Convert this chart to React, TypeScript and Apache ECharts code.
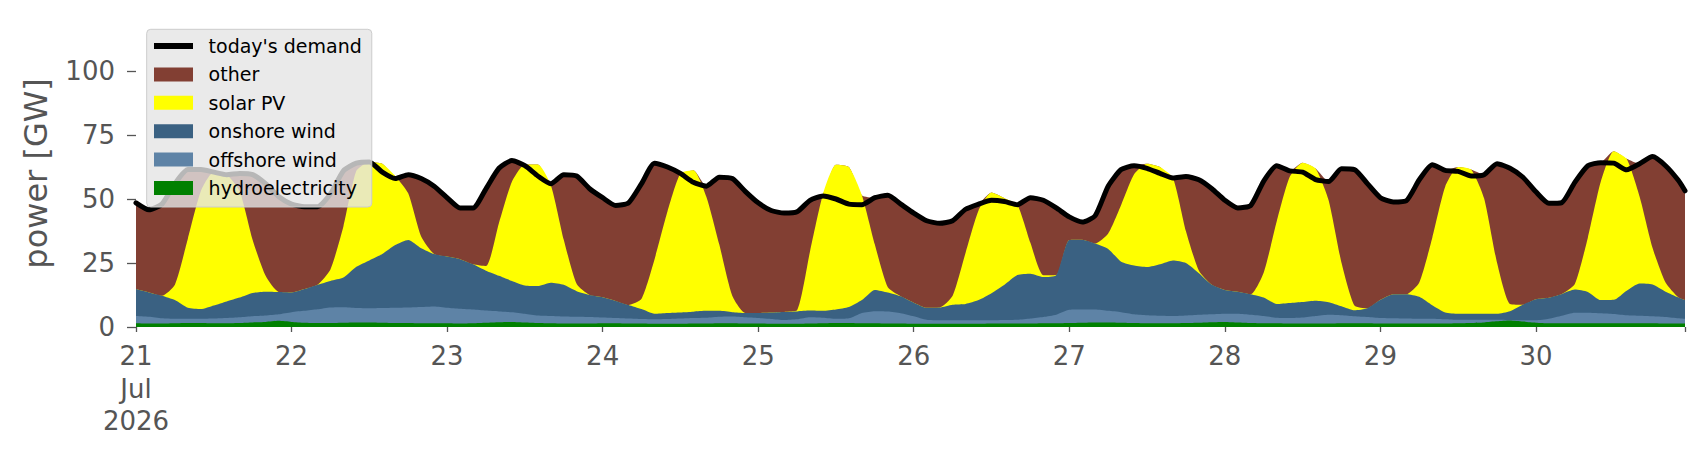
import React, { useEffect, useRef } from "react";
import * as echarts from "echarts";

// Day tick labels (x axis), month / year shown under the first day
const DAY_LABELS = ["21", "22", "23", "24", "25", "26", "27", "28", "29", "30"];
const MONTH_LABEL = "Jul";
const YEAR_LABEL = "2026";
const Y_TICKS = [0, 25, 50, 75, 100];

// Values every 2 hours from 21 Jul 00:00 (last point 30 Jul 23:00), GW
const DEMAND = [
  48.5, 45.8, 48, 56, 61.5, 61.5, 60.5, 59.5, 60, 59.5, 56,
  51, 48, 47, 47, 52, 61, 64, 64.5, 60.5, 58,
  59.5, 58, 55, 50.5, 46.5, 46.5, 54, 62, 65, 63,
  59, 56, 59.5, 59, 54, 50.5, 47.5, 48.5, 56, 64,
  62.5, 60, 56.5, 55, 58.5, 58, 53, 48.5, 45.5, 44.5,
  45, 49.5, 51.2, 50, 48, 47.8, 50.5, 51.5, 48, 44.5,
  41.5, 40.5, 41.5, 46, 48, 49.5, 49, 47.8, 50.5, 49.5,
  46.5, 43, 41, 43.5, 55, 61.5, 63, 62, 60, 58.2,
  58.8, 57.5, 54, 49.5, 46.5, 47.5, 57, 63, 61, 60.5,
  57.6, 56.8, 61.8, 61.5, 56, 50.5, 48.8, 49.3, 57.5, 63.4,
  61.2, 60.8, 59, 59.5, 63.8, 62, 58.5, 52.8, 48.3, 48.6,
  56.5, 63, 64.2, 64, 61.4, 63.8, 66.6, 63, 57.2, 53.2,
];

const OTHER = [
  33.7, 32.3, 35.8, 39.5, 27, 8.5, 0, 0, 7, 25.5, 36,
  37.3, 34.5, 32.2, 30.5, 29.5, 21.7, 3, 0, 0, 0,
  7.3, 22.6, 26.5, 23, 20, 22, 30.2, 21.4, 8.3, 0,
  0, 0.5, 25.4, 42.2, 41.5, 38.9, 37.3, 39.9, 45, 37.6,
  17.4, 0, 0, 4.1, 26.3, 45.8, 47.5, 43, 39.8, 38.6,
  38.5, 19.9, 0, 0, 0, 0, 18.3, 36, 36, 35,
  34, 32.9, 29.3, 17, 2.5, 0, 0, 0, 17.6, 29.3,
  26.2, 9, 6.9, 10.9, 18.5, 13.8, 3.3, 0, 0, 0,
  21.4, 35.5, 37.5, 35, 32.7, 34.7, 35.7, 21.8, 2.4, 0,
  0, 7.2, 36.7, 53.1, 48.7, 39.9, 36, 36.5, 40.1, 28.6,
  6.4, 0, 0, 9.2, 38.7, 53, 49.8, 42, 36.9, 35.7,
  39.7, 28.2, 7.5, 0, 0, 12.9, 35.7, 45.6, 45.7, 42.7,
];

const SOLAR = [
  0, 0, 0, 6, 27, 46, 52.1, 49.5, 41.5, 20.7, 6.2,
  0, 0, 0, 0, 4.5, 20, 37.5, 38.5, 35.3, 27,
  18.2, 4.6, 0, 0, 0, 0, 1.8, 20.6, 38.7, 47.3,
  47.5, 38.2, 17.6, 2.8, 0, 0, 0, 0, 4, 21.2,
  39.6, 54.3, 55.2, 44.6, 25.9, 6.4, 0, 0, 0, 0,
  0.4, 23.2, 45.7, 56.6, 54.7, 41, 17.7, 2, 0, 0,
  0, 0, 3.5, 20, 35, 39.3, 33.8, 27.4, 12.1, 0.7,
  0, 0, 0, 0, 6, 22.2, 35.7, 40.4, 38, 32.2,
  12.4, 1, 0, 0, 0, 0, 9.8, 32.2, 49.2, 54.4,
  51.6, 39.9, 17, 1.9, 0, 0, 0, 0, 5.6, 26.3,
  49.1, 57.3, 56.3, 45.1, 19.9, 2.8, 0, 0, 0, 0,
  2.2, 21.1, 46.2, 58.1, 51.5, 33.9, 14.3, 3.6, 0, 0,
];

const ONSHORE = [
  10.5, 9.5, 8.8, 7.3, 4.3, 3.8, 5.1, 6.5, 7.7, 9.1, 9.3,
  8.7, 7.7, 8.5, 9.6, 10.4, 11.6, 16.1, 18.7, 21.1, 24.5,
  26.4, 23, 20.5, 20, 19.4, 17.7, 15.6, 13.9, 12.2, 11,
  11.5, 13, 12.4, 10, 8.6, 7.9, 6.7, 5.3, 3.9, 2.2,
  2.4, 2.4, 2.5, 2.7, 2.3, 1.7, 1.7, 2, 2.6, 3.2,
  3.1, 2.6, 2.7, 3.6, 4.4, 5, 8.3, 7.4, 6.6, 5.3,
  4.7, 5, 6.1, 6.4, 7.9, 10.6, 13.8, 17.5, 17.5, 15.6,
  15.5, 27.3, 27.3, 25.8, 24.2, 19.7, 19, 18.8, 20.1, 21.7,
  20.5, 16.2, 11.5, 9.3, 8.6, 8, 7.2, 5.4, 5.9, 6.1,
  6, 4.9, 3.5, 2.3, 3.4, 7.1, 9.4, 9.5, 8.6, 5.3,
  2.7, 2.4, 2.4, 2.4, 2.4, 3.5, 6.1, 8.2, 8.2, 8.5,
  9, 8.1, 5.1, 5.5, 9.6, 12.6, 12.4, 9.9, 8.1, 7.3,
];

const OFFSHORE = [
  2.8, 2.6, 2.0, 1.7, 1.6, 1.6, 1.8, 2.0, 2.2, 2.4, 2.5,
  2.6, 3.8, 4.6, 5.3, 6.0, 6.0, 5.6, 5.5, 5.7, 5.9,
  6.0, 6.3, 6.5, 6.0, 5.7, 5.3, 4.7, 4.2, 3.8, 3.4,
  2.9, 2.8, 2.7, 2.6, 2.5, 2.2, 2.0, 1.9, 1.7, 1.7,
  1.8, 2.0, 2.1, 2.2, 2.5, 2.6, 2.4, 2.1, 1.8, 1.4,
  1.7, 2.4, 2.1, 1.6, 1.8, 4.0, 4.7, 4.7, 4.0, 2.9,
  1.5, 1.3, 1.3, 1.3, 1.3, 1.2, 1.3, 1.4, 1.9, 2.4,
  3.3, 5.1, 5.1, 5.0, 4.5, 4.1, 3.4, 3.1, 2.9, 2.8,
  2.9, 3.1, 3.1, 3.2, 3.4, 3.2, 2.8, 2.1, 2.1, 2.3,
  2.9, 3.4, 3.1, 2.7, 2.4, 2.1, 2.0, 1.9, 1.8, 1.8,
  1.6, 1.3, 1.2, 1.0, 0.6, 0.2, 0.5, 0.9, 1.7, 2.9,
  4.1, 4.1, 3.9, 3.6, 3.1, 2.9, 2.7, 2.5, 2.0, 1.8,
];

const HYDRO = [
  1.5, 1.4, 1.4, 1.5, 1.6, 1.6, 1.5, 1.5, 1.6, 1.8, 2.0,
  2.4, 2.0, 1.7, 1.6, 1.6, 1.7, 1.8, 1.8, 1.7, 1.6,
  1.6, 1.5, 1.5, 1.5, 1.4, 1.5, 1.7, 1.9, 2.0, 1.8,
  1.6, 1.5, 1.4, 1.4, 1.4, 1.5, 1.5, 1.4, 1.4, 1.3,
  1.3, 1.3, 1.4, 1.4, 1.5, 1.5, 1.4, 1.4, 1.3, 1.3,
  1.3, 1.4, 1.5, 1.6, 1.6, 1.5, 1.5, 1.4, 1.4, 1.3,
  1.3, 1.3, 1.3, 1.3, 1.3, 1.4, 1.4, 1.4, 1.4, 1.5,
  1.5, 1.6, 1.7, 1.8, 1.8, 1.7, 1.6, 1.5, 1.5, 1.5,
  1.6, 1.7, 1.9, 2.0, 1.8, 1.6, 1.5, 1.5, 1.4, 1.4,
  1.4, 1.4, 1.5, 1.5, 1.5, 1.4, 1.4, 1.4, 1.4, 1.4,
  1.4, 1.5, 1.6, 1.8, 2.2, 2.5, 2.1, 1.7, 1.5, 1.5,
  1.5, 1.5, 1.5, 1.5, 1.5, 1.5, 1.5, 1.4, 1.4, 1.4,
];

const FONT = "DejaVu Sans";
const LAST_HOUR = 239;

// stack order, bottom to top
const LAYERS: { name: string; values: number[]; color: string }[] = [
  { name: "hydroelectricity", values: HYDRO, color: "#008000" },
  { name: "offshore wind", values: OFFSHORE, color: "#5e83a6" },
  { name: "onshore wind", values: ONSHORE, color: "#3a6182" },
  { name: "solar PV", values: SOLAR, color: "#ffff00" },
  { name: "other", values: OTHER, color: "#823f33" },
];

export default function App() {
  const ref = useRef<HTMLDivElement>(null);

  useEffect(() => {
    if (!ref.current) return;
    const chart = echarts.init(ref.current, null, { renderer: "svg" });
    const hours = DEMAND.map((_, i) => Math.min(i * 2, LAST_HOUR));

    // cumulative tops of the stack (each layer filled from 0, drawn top layer first)
    const running = DEMAND.map(() => 0);
    const tops = LAYERS.map((layer) =>
      layer.values.map((v, i) => {
        running[i] += v;
        return [hours[i], +running[i].toFixed(3)];
      })
    );

    const areaSeries = LAYERS.map((layer, k) => ({
      name: layer.name,
      type: "line",
      data: tops[k],
      symbol: "none",
      showSymbol: false,
      smooth: 0.2,
      lineStyle: { width: 0 },
      areaStyle: { color: layer.color, opacity: 1, origin: "start" },
      itemStyle: { color: layer.color },
      emphasis: { disabled: true },
      z: 2,
    })).reverse();

    chart.setOption({
      animation: false,
      backgroundColor: "#ffffff",
      grid: { left: 136, right: 21, top: 19.8, bottom: 133 },
      legend: {
        left: 146.7,
        top: 29.3,
        orient: "vertical",
        itemWidth: 39,
        itemHeight: 14,
        itemGap: 8.4,
        padding: [6.7, 10, 9, 7.3],
        backgroundColor: "rgba(229,229,229,0.8)",
        borderColor: "#cccccc",
        borderWidth: 1,
        borderRadius: 4,
        selectedMode: false,
        textStyle: {
          fontFamily: FONT,
          fontSize: 19,
          color: "#000",
          lineHeight: 20,
          padding: [0, 0, 0, 10.6],
        },
        data: [
          { name: "today's demand", icon: "path://M0,0H40V6H0Z" },
          { name: "other", icon: "rect" },
          { name: "solar PV", icon: "rect" },
          { name: "onshore wind", icon: "rect" },
          { name: "offshore wind", icon: "rect" },
          { name: "hydroelectricity", icon: "rect" },
        ],
      },
      xAxis: {
        type: "value",
        min: 0,
        max: LAST_HOUR,
        interval: 24,
        axisLine: { show: false },
        splitLine: { show: false },
        axisTick: { show: true, length: 5, lineStyle: { color: "#555", width: 1.3 } },
        axisLabel: {
          fontFamily: FONT,
          fontSize: 26,
          color: "#555",
          margin: 13,
          lineHeight: 32.5,
          formatter: (v: number) => {
            if (v % 24 !== 0) return "";
            const idx = v / 24;
            if (idx >= DAY_LABELS.length) return "";
            return idx === 0
              ? `${DAY_LABELS[0]}\n${MONTH_LABEL}\n${YEAR_LABEL}`
              : DAY_LABELS[idx];
          },
        },
      },
      yAxis: {
        type: "value",
        min: 0,
        max: 120,
        interval: 25,
        name: "power [GW]",
        nameLocation: "middle",
        nameRotate: 90,
        nameGap: 84,
        nameTextStyle: { fontFamily: FONT, fontSize: 32, color: "#555" },
        axisLine: { show: false },
        splitLine: { show: false },
        axisTick: {
          show: true,
          length: 9,
          lineStyle: { color: "#555", width: 1.3 },
          customValues: Y_TICKS,
        },
        axisLabel: {
          fontFamily: FONT,
          fontSize: 26,
          color: "#555",
          margin: 21,
          customValues: Y_TICKS,
        },
      },
      series: [
        ...areaSeries,
        {
          name: "today's demand",
          type: "line",
          data: DEMAND.map((v, i) => [hours[i], v]),
          symbol: "none",
          showSymbol: false,
          smooth: 0.2,
          lineStyle: { color: "#000000", width: 5, join: "round", cap: "round" },
          itemStyle: { color: "#000000" },
          emphasis: { disabled: true },
          z: 3,
        },
      ],
    });

    return () => chart.dispose();
  }, []);

  return (
    <div
      ref={ref}
      style={{ position: "absolute", left: 0, top: 0, width: 1706, height: 460 }}
    />
  );
}
